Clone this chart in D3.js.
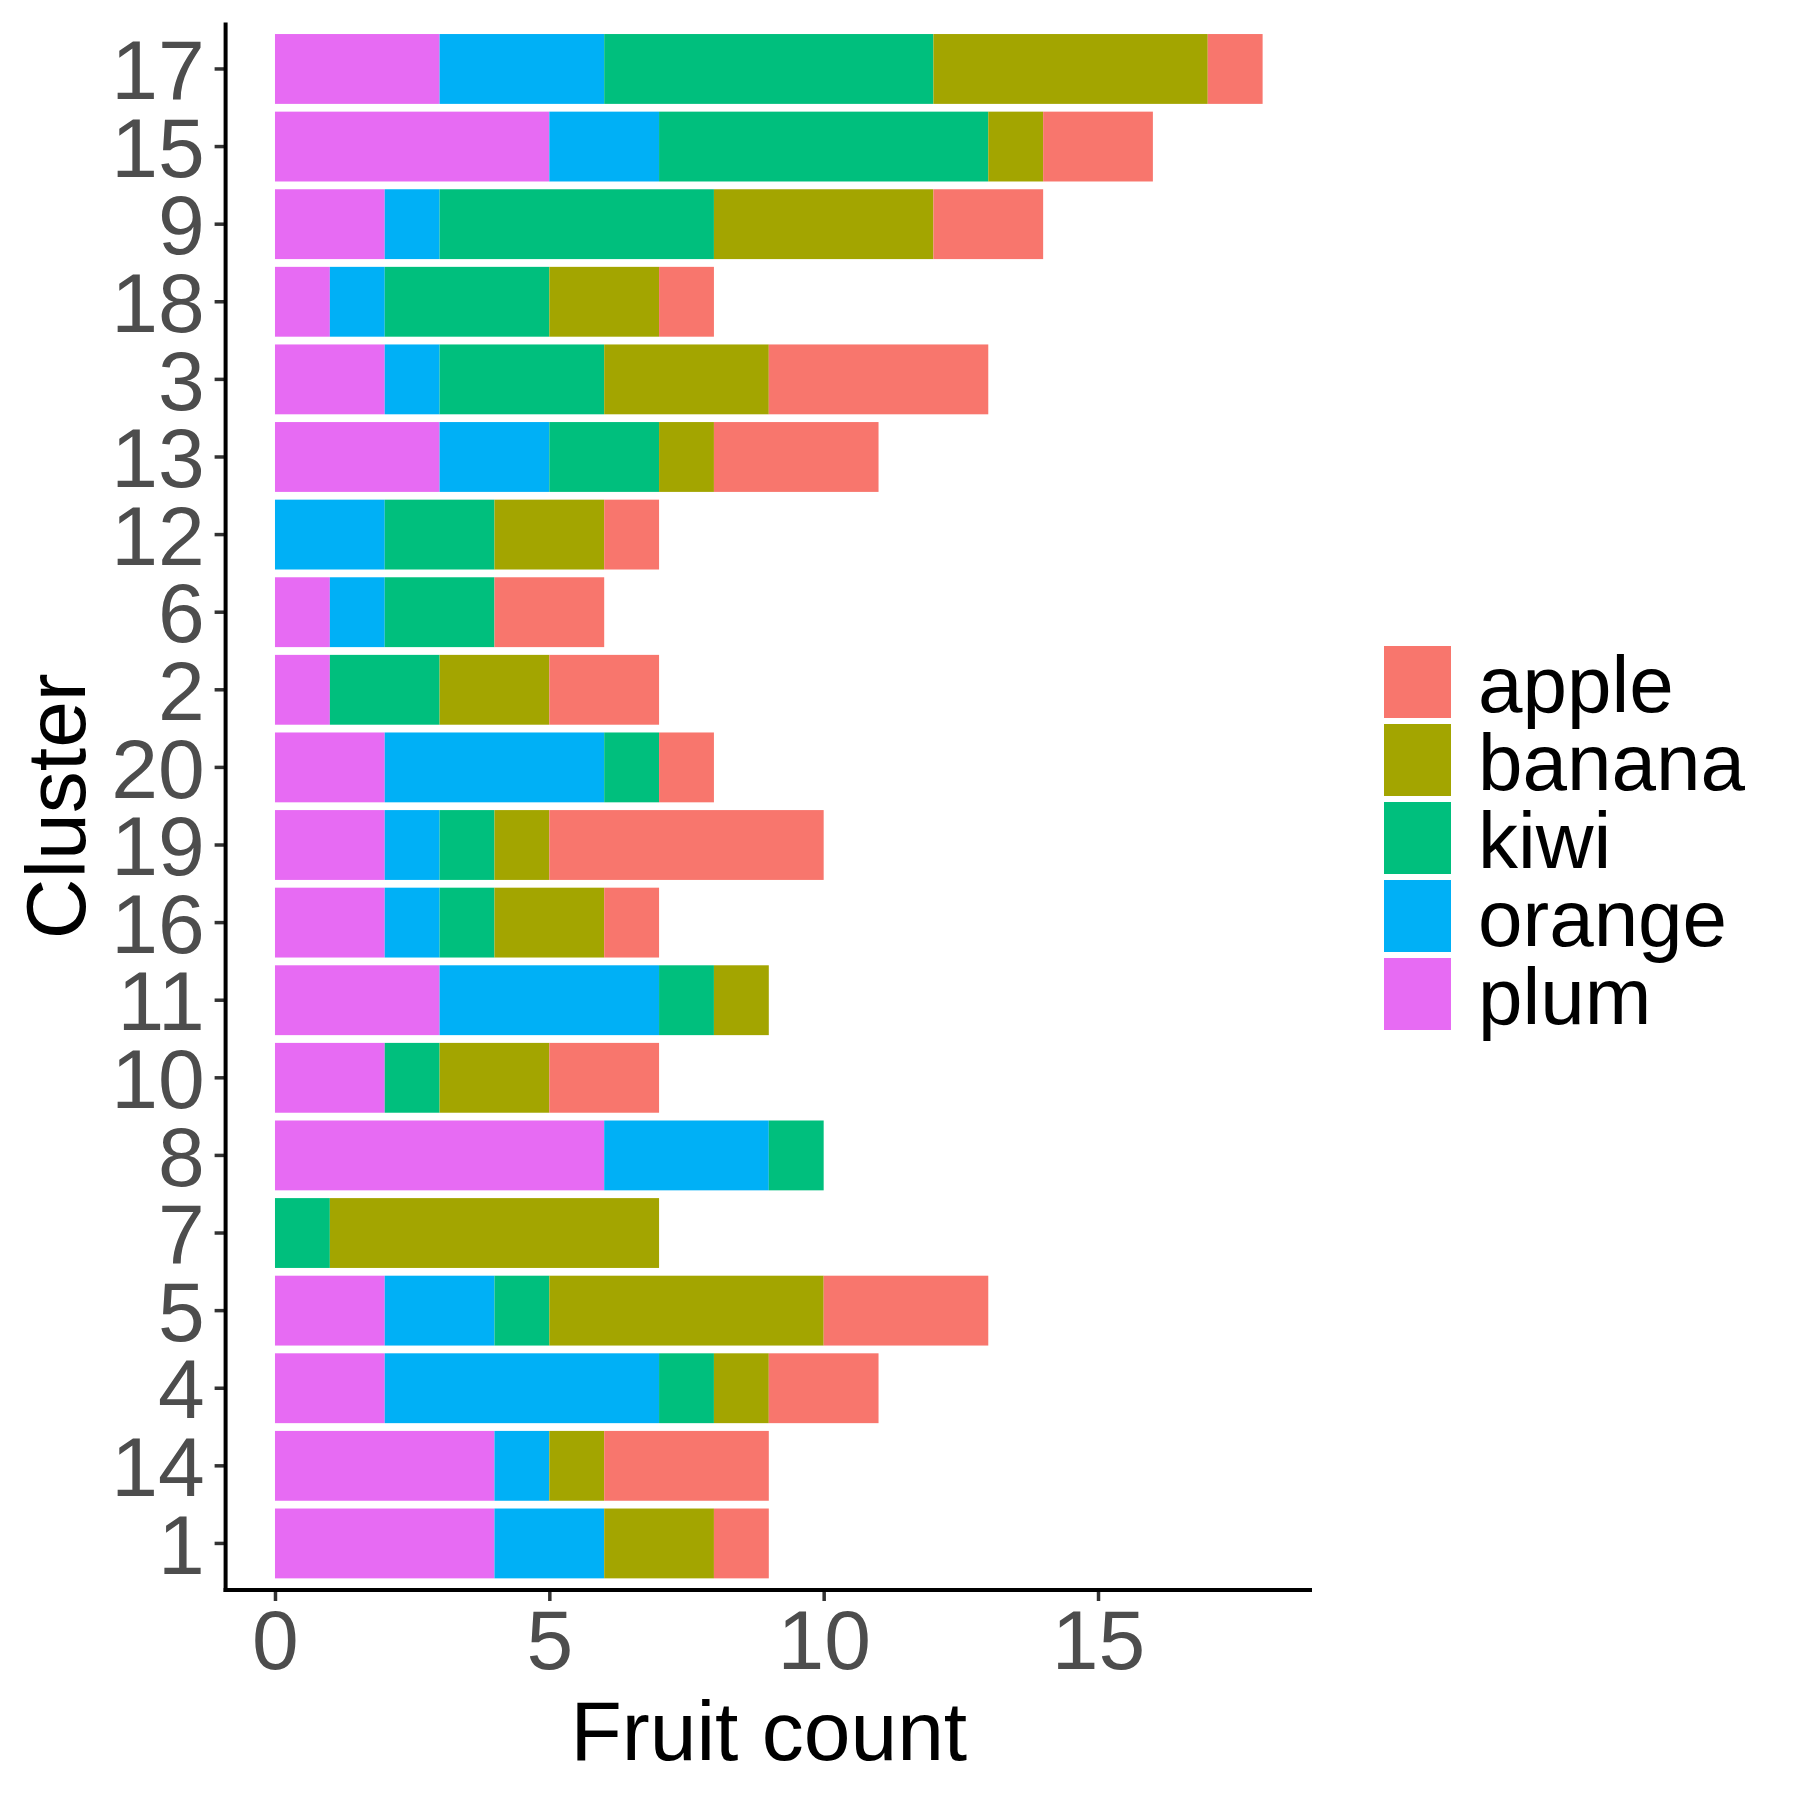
<!DOCTYPE html>
<html>
<head>
<meta charset="utf-8">
<script src="https://cdn.jsdelivr.net/npm/d3@7"></script>
<style>
  body { margin: 0; background: #fff; }
  text { font-family: "Liberation Sans", Arial, sans-serif; }
</style>
</head>
<body>
<svg width="1800" height="1800"></svg>
<script>
// clusters, top to bottom
const clusters = ["17", "15", "9", "18", "3", "13", "12", "6", "2", "20",
  "19", "16", "11", "10", "8", "7", "5", "4", "14", "1"];
const fruits = ["apple", "banana", "kiwi", "orange", "plum"];
const colors = ["#F8766D", "#A3A500", "#00BF7D", "#00B0F6", "#E76BF3"];

// counts per cluster, same order as clusters
const plum   = [3, 5, 2, 1, 2, 3, 0, 1, 1, 2, 2, 2, 3, 2, 6, 0, 2, 2, 4, 4];
const orange = [3, 2, 1, 1, 1, 2, 2, 1, 0, 4, 1, 1, 4, 0, 3, 0, 2, 5, 1, 2];
const kiwi   = [6, 6, 5, 3, 3, 2, 2, 2, 2, 1, 1, 1, 1, 1, 1, 1, 1, 1, 0, 0];
const banana = [5, 1, 4, 2, 3, 1, 2, 0, 2, 0, 1, 2, 1, 2, 0, 6, 5, 1, 1, 2];
const apple  = [1, 2, 2, 1, 4, 3, 1, 2, 2, 1, 5, 1, 0, 2, 0, 0, 3, 2, 3, 1];

const xTicks = [0, 5, 10, 15];

const series = { apple, banana, kiwi, orange, plum };
// stacked from the left: plum first, apple last
const stackOrder = ["plum", "orange", "kiwi", "banana", "apple"];
const rows = clusters.map((c, i) => {
  const r = { cluster: c };
  fruits.forEach(f => (r[f] = series[f][i]));
  return r;
});

const svg = d3.select("svg");
const panel = { left: 225.6, right: 1312, top: 22.4, bottom: 1590 };
const fs = 84;

const color = d3.scaleOrdinal().domain(fruits).range(colors);
const maxTotal = d3.max(rows, r => d3.sum(fruits, f => r[f]));
const x = d3.scaleLinear()
  .domain([-0.05 * maxTotal, maxTotal * 1.05])
  .range([panel.left, panel.right]);
const y = d3.scaleBand()
  .domain(clusters)
  .range([panel.top, panel.bottom])
  .paddingInner(0.1)
  .paddingOuter(0.15);

const stacked = d3.stack().keys(stackOrder)(rows);

svg.append("g")
  .selectAll("g")
  .data(stacked)
  .join("g")
  .attr("fill", d => color(d.key))
  .selectAll("rect")
  .data(d => d)
  .join("rect")
  .attr("x", d => x(d[0]))
  .attr("width", d => x(d[1]) - x(d[0]))
  .attr("y", d => y(d.data.cluster))
  .attr("height", y.bandwidth());

// y axis
const yAxis = svg.append("g")
  .attr("transform", `translate(${panel.left},0)`)
  .call(d3.axisLeft(y).tickSize(11).tickPadding(10));
yAxis.select(".domain").remove();
yAxis.selectAll(".tick line").attr("stroke", "#333333").attr("stroke-width", 3.5);
yAxis.selectAll(".tick text")
  .attr("fill", "#4D4D4D")
  .style("font-size", fs + "px")
  .attr("dy", "0.36em");

// x axis
const xAxis = svg.append("g")
  .attr("transform", `translate(0,${panel.bottom})`)
  .call(d3.axisBottom(x).tickValues(xTicks).tickFormat(d3.format("d")).tickSize(11).tickPadding(8));
xAxis.select(".domain").remove();
xAxis.selectAll(".tick line").attr("stroke", "#333333").attr("stroke-width", 3.5);
xAxis.selectAll(".tick text")
  .attr("fill", "#4D4D4D")
  .style("font-size", fs + "px")
  .attr("dy", "0.71em");

// axis lines
svg.append("line")
  .attr("x1", panel.left).attr("x2", panel.left)
  .attr("y1", panel.top).attr("y2", panel.bottom + 2)
  .attr("stroke", "black").attr("stroke-width", 4);
svg.append("line")
  .attr("x1", panel.left - 2).attr("x2", panel.right)
  .attr("y1", panel.bottom).attr("y2", panel.bottom)
  .attr("stroke", "black").attr("stroke-width", 4);

// titles
svg.append("text")
  .attr("x", (panel.left + panel.right) / 2)
  .attr("y", 1760)
  .attr("text-anchor", "middle")
  .style("font-size", fs + "px")
  .text("Fruit count");
svg.append("text")
  .attr("transform", `translate(85,${(panel.top + panel.bottom) / 2}) rotate(-90)`)
  .attr("text-anchor", "middle")
  .style("font-size", fs + "px")
  .text("Cluster");

// legend
const legend = svg.append("g").attr("transform", "translate(1384,646)");
const item = legend.selectAll("g")
  .data(fruits)
  .join("g")
  .attr("transform", (d, i) => `translate(0,${i * 78})`);
item.append("rect")
  .attr("width", 67)
  .attr("height", 72)
  .attr("fill", d => color(d));
item.append("text")
  .attr("x", 94)
  .attr("y", 36 + 30)
  .style("font-size", "80px")
  .text(d => d);
</script>
</body>
</html>
